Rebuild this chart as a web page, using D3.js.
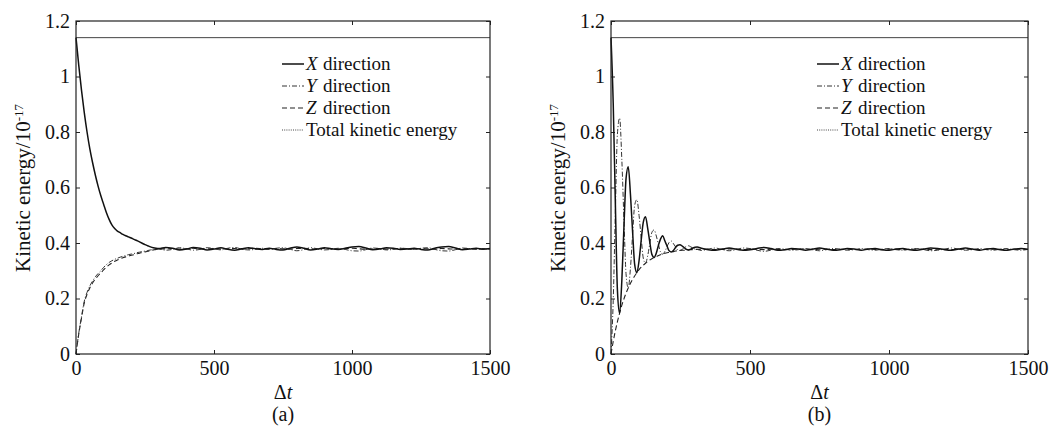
<!DOCTYPE html>
<html>
<head>
<meta charset="utf-8">
<script src="https://cdn.jsdelivr.net/npm/d3@7"></script>
<style>
  body { margin: 0; background: #fff; }
  svg text { font-family: "Liberation Serif", "Times New Roman", serif; }
</style>
</head>
<body>
<div id="chart"></div>
<script>
// time steps and kinetic energy, panel (a)
var tA = [0,10,20,30,40,50,60,70,80,90,100,110,120,130,140,150,160,170,180,190,200,210,220,230,240,250,260,270,280,290,300,
    325,350,375,400,425,450,475,500,525,550,575,600,625,650,675,700,725,750,775,800,825,850,875,900,925,950,975,1000,
    1025,1050,1075,1100,1125,1150,1175,1200,1225,1250,1275,1300,1325,1350,1375,1400,1425,1450,1475,1500];
var xA = [1.14,1.04,0.95,0.87,0.80,0.74,0.69,0.645,0.605,0.57,0.54,0.51,0.485,0.465,0.452,0.443,0.437,0.431,0.426,0.422,0.418,0.413,0.409,0.404,0.399,0.394,0.39,0.386,0.383,0.381,0.380,
    0.384,0.381,0.375,0.378,0.384,0.381,0.375,0.378,0.383,0.377,0.374,0.379,0.383,0.379,0.377,0.381,0.377,0.375,0.381,0.386,
    0.381,0.375,0.378,0.383,0.379,0.377,0.381,0.386,0.387,0.382,0.376,0.378,0.383,0.381,0.377,0.378,0.381,0.377,0.375,0.381,
    0.386,0.387,0.382,0.376,0.378,0.381,0.378,0.380];
var yA = [0,0.075,0.135,0.19,0.222,0.245,0.263,0.278,0.29,0.30,0.312,0.322,0.33,0.336,0.341,0.345,0.349,0.352,0.355,0.358,0.36,0.362,0.365,0.367,0.369,0.371,0.373,0.375,0.376,0.377,0.378,
    0.374,0.377,0.383,0.379,0.374,0.377,0.383,0.380,0.375,0.381,0.384,0.378,0.375,0.377,0.381,0.377,0.381,0.383,0.377,0.372,
    0.376,0.383,0.379,0.375,0.377,0.381,0.377,0.372,0.371,0.376,0.382,0.380,0.375,0.377,0.381,0.380,0.377,0.381,0.383,0.377,
    0.372,0.371,0.376,0.382,0.380,0.377,0.379,0.378];
var zA = [0,0.072,0.13,0.184,0.215,0.238,0.256,0.27,0.282,0.292,0.303,0.313,0.321,0.328,0.334,0.339,0.343,0.347,0.35,0.353,0.356,0.358,0.361,0.363,0.366,0.368,0.37,0.373,0.375,0.377,0.378,
    0.379,0.380,0.378,0.379,0.381,0.378,0.379,0.380,0.378,0.379,0.380,0.378,0.379,0.381,0.379,0.378,0.380,0.379,0.378,0.380,
    0.381,0.379,0.378,0.380,0.379,0.378,0.380,0.381,0.379,0.378,0.379,0.380,0.378,0.379,0.381,0.379,0.378,0.380,0.379,0.378,
    0.380,0.379,0.378,0.379,0.380,0.379,0.378,0.379];

// panel (b)
var tB = [0,8,16,23,31,39,47,54,62,70,78,85,93,101,109,116,124,132,140,147,155,163,171,178,186,194,202,209,217,225,233,240,248,256,264,271,279,287,295,302,310,
    325,350,375,400,425,450,475,500,525,550,575,600,625,650,675,700,725,750,775,800,825,850,875,900,925,950,975,1000,
    1025,1050,1075,1100,1125,1150,1175,1200,1225,1250,1275,1300,1325,1350,1375,1400,1425,1450,1475,1500];
var xB = [1.14,0.903,0.528,0.232,0.147,0.265,0.47,0.631,0.675,0.575,0.435,0.324,0.293,0.337,0.414,0.474,0.495,0.453,0.400,0.359,0.348,0.364,0.393,0.414,0.426,0.407,0.388,0.372,0.368,0.374,0.385,0.392,0.394,0.389,0.383,0.377,0.375,0.378,0.382,0.385,0.386,
    0.381,0.376,0.374,0.378,0.382,0.378,0.374,0.376,0.380,0.384,0.380,0.374,0.376,0.380,0.378,0.374,0.378,0.382,0.378,0.374,
    0.376,0.380,0.378,0.374,0.378,0.380,0.376,0.374,0.378,0.380,0.376,0.374,0.378,0.382,0.380,0.376,0.374,0.378,0.382,0.378,
    0.374,0.378,0.380,0.376,0.374,0.378,0.380,0.377];
var yB = [0,0.192,0.528,0.792,0.850,0.699,0.47,0.290,0.238,0.310,0.435,0.535,0.556,0.499,0.414,0.346,0.327,0.354,0.400,0.438,0.447,0.425,0.393,0.368,0.360,0.370,0.388,0.402,0.407,0.397,0.385,0.375,0.373,0.377,0.383,0.388,0.390,0.386,0.382,0.378,0.377,
    0.373,0.378,0.382,0.376,0.372,0.376,0.382,0.380,0.374,0.370,0.374,0.380,0.378,0.374,0.376,0.380,0.376,0.372,0.376,0.380,
    0.378,0.374,0.376,0.380,0.376,0.374,0.378,0.380,0.376,0.374,0.378,0.380,0.376,0.372,0.374,0.378,0.382,0.378,0.374,0.376,
    0.380,0.376,0.374,0.378,0.380,0.376,0.374,0.377];
var zB = [0,0.045,0.085,0.116,0.147,0.176,0.200,0.219,0.238,0.255,0.270,0.281,0.293,0.304,0.313,0.320,0.327,0.333,0.339,0.343,0.348,0.351,0.355,0.358,0.360,0.363,0.365,0.366,0.368,0.369,0.371,0.372,0.373,0.374,0.374,0.375,0.375,0.376,0.376,0.377,0.377,
    0.377,0.378,0.376,0.377,0.379,0.377,0.376,0.378,0.377,0.376,0.378,0.377,0.376,0.377,0.379,0.377,0.376,0.378,0.377,0.376,
    0.377,0.378,0.376,0.377,0.378,0.377,0.376,0.378,0.377,0.376,0.377,0.378,0.377,0.376,0.378,0.377,0.376,0.377,0.378,0.377,
    0.376,0.377,0.378,0.377,0.376,0.377,0.378,0.377];

// total kinetic energy stays flat
var totalT = [0, 1500];
var totalE = [1.14, 1.14];

var xTicks = [0, 500, 1000, 1500];
var yTicks = [0, 0.2, 0.4, 0.6, 0.8, 1, 1.2];
var legendNames = ["X", "Y", "Z", "Total kinetic energy"];

var serif = "'Liberation Serif', 'Times New Roman', serif";

var svg = d3.select("#chart")
    .append("svg")
        .attr("width", 1051)
        .attr("height", 430);

var styles = [
    {stroke: "#111", width: 1.5, dash: null},
    {stroke: "#333", width: 1, dash: "5,2,1,2"},
    {stroke: "#222", width: 1.1, dash: "5,3"},
    {stroke: "#444", width: 1, dash: "1,1.2"}
];

function drawPanel(left, right, t, xs, ys, zs, tag) {
    var top = 21, bottom = 354;

    var x = d3.scaleLinear()
        .domain([0, 1500])
        .range([left, right]);

    var y = d3.scaleLinear()
        .domain([0, 1.2])
        .range([bottom, top]);

    var g = svg.append("g");

    // inward ticks on all four sides
    g.append("g")
        .attr("transform", "translate(0," + bottom + ")")
        .call(d3.axisBottom(x).tickValues(xTicks).tickSize(-4).tickSizeOuter(0).tickPadding(7)
            .tickFormat(d3.format("d")))
        .call(function(a) { a.select(".domain").remove(); });
    g.append("g")
        .attr("transform", "translate(0," + top + ")")
        .call(d3.axisTop(x).tickValues(xTicks).tickSize(-4).tickSizeOuter(0).tickFormat(""))
        .call(function(a) { a.select(".domain").remove(); });
    g.append("g")
        .attr("transform", "translate(" + left + ",0)")
        .call(d3.axisLeft(y).tickValues(yTicks).tickSize(-4).tickSizeOuter(0).tickPadding(6)
            .tickFormat(function(d) { return String(d); }))
        .call(function(a) { a.select(".domain").remove(); });
    g.append("g")
        .attr("transform", "translate(" + right + ",0)")
        .call(d3.axisRight(y).tickValues(yTicks).tickSize(-4).tickSizeOuter(0).tickFormat(""))
        .call(function(a) { a.select(".domain").remove(); });

    g.selectAll("g").attr("font-family", serif);
    g.selectAll(".tick text")
        .attr("font-size", 20)
        .attr("fill", "#111");
    g.selectAll(".tick line").attr("stroke", "#222");

    var line = d3.line()
        .x(function(d) { return x(d[0]); })
        .y(function(d) { return y(d[1]); })
        .curve(d3.curveMonotoneX);

    var total = totalT.map(function(v, i) { return [v, totalE[i]]; });
    g.append("path")
        .datum(total)
        .attr("fill", "none")
        .attr("stroke", styles[3].stroke)
        .attr("stroke-width", 1)
        .attr("d", line);

    [zs, ys, xs].forEach(function(vals, k) {
        var s = styles[2 - k];
        g.append("path")
            .datum(t.map(function(v, i) { return [v, vals[i]]; }))
            .attr("fill", "none")
            .attr("stroke", s.stroke)
            .attr("stroke-width", s.width)
            .attr("stroke-dasharray", s.dash)
            .attr("d", line);
    });

    // frame
    g.append("rect")
        .attr("x", left)
        .attr("y", top)
        .attr("width", right - left)
        .attr("height", bottom - top)
        .attr("fill", "none")
        .attr("stroke", "#222")
        .attr("stroke-width", 1.2);

    // legend, rows 22px apart so the text boxes do not touch
    var lx = left + 206;
    legendNames.forEach(function(name, i) {
        var ly = 64 + i * 22;
        var s = styles[i];
        g.append("line")
            .attr("x1", lx).attr("x2", lx + 22)
            .attr("y1", ly).attr("y2", ly)
            .attr("stroke", s.stroke)
            .attr("stroke-width", s.width)
            .attr("stroke-dasharray", s.dash);
        if (i < 3) {
            g.append("text")
                .attr("x", lx + 24)
                .attr("y", ly + 6)
                .attr("font-family", serif)
                .attr("font-size", 19)
                .attr("font-style", "italic")
                .attr("fill", "#111")
                .text(name);
            g.append("text")
                .attr("x", lx + 41)
                .attr("y", ly + 6)
                .attr("font-family", serif)
                .attr("font-size", 19)
                .attr("fill", "#111")
                .text("direction");
        } else {
            g.append("text")
                .attr("x", lx + 24)
                .attr("y", ly + 6)
                .attr("font-family", serif)
                .attr("font-size", 19)
                .attr("fill", "#111")
                .text(name);
        }
    });

    // axis titles
    var yl = g.append("text")
        .attr("transform", "translate(" + (left - 46) + ",188) rotate(-90)")
        .attr("text-anchor", "middle")
        .attr("font-family", serif)
        .attr("font-size", 21)
        .attr("fill", "#111");
    yl.append("tspan").text("Kinetic energy/10");
    yl.append("tspan").attr("dy", "-0.55em").attr("font-size", 13).text("-17");

    var xl = g.append("text")
        .attr("x", (left + right) / 2)
        .attr("y", 399)
        .attr("text-anchor", "middle")
        .attr("font-family", serif)
        .attr("font-size", 20)
        .attr("fill", "#111");
    xl.append("tspan").text("Δ");
    xl.append("tspan").attr("font-style", "italic").text("t");

    g.append("text")
        .attr("x", (left + right) / 2)
        .attr("y", 421)
        .attr("text-anchor", "middle")
        .attr("font-family", serif)
        .attr("font-size", 20)
        .attr("fill", "#111")
        .text("(" + tag + ")");
}

drawPanel(76, 490, tA, xA, yA, zA, "a");
drawPanel(611, 1028, tB, xB, yB, zB, "b");
</script>
</body>
</html>
